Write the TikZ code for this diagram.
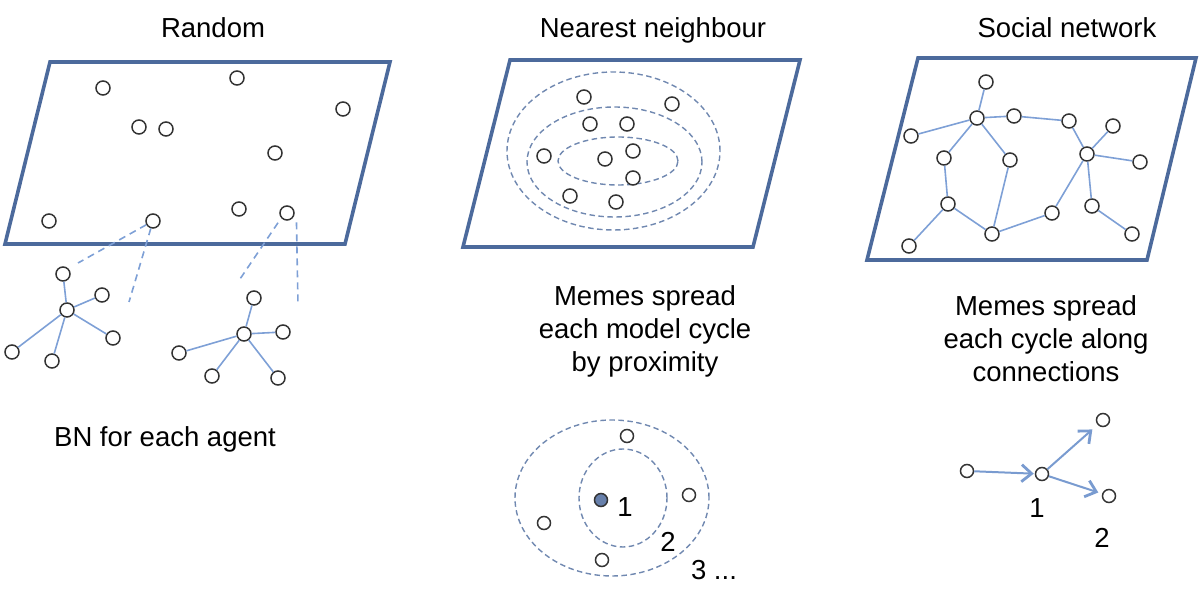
\documentclass[tikz,border=0pt]{standalone}
\usepackage{fontspec}
\setmainfont{Liberation Sans}
\usetikzlibrary{arrows.meta,shapes.geometric}
\definecolor{PlaneBlue}{HTML}{4C6A9C}
\definecolor{LinkBlue}{HTML}{7EA0D6}
\definecolor{ZoneBlue}{HTML}{7088B0}
\definecolor{AgentInk}{HTML}{333333}

\begin{document}
\begin{tikzpicture}[x=1pt,y=1pt,>=Latex]
\tikzset{
  plane/.style={draw=PlaneBlue,line width=3.6pt,line join=miter},
  agent/.style={circle,draw=AgentInk,line width=1.5pt,fill=white,
                minimum size=14pt,inner sep=0pt},
  seed/.style={agent,fill=PlaneBlue!85,minimum size=13pt},
  link/.style={LinkBlue,line width=1.6pt},
  proj/.style={LinkBlue,line width=1.6pt,dash pattern=on 7pt off 5pt},
  zone/.style={draw=ZoneBlue,line width=1.4pt,dash pattern=on 5.5pt off 3.5pt},
  spread/.style={LinkBlue!90!PlaneBlue,line width=2pt,
                 -{Straight Barb[length=10pt,width=17pt,line width=2.8pt]}},
  title/.style={font=\fontsize{27.5}{33}\selectfont,anchor=base,inner sep=0pt},
  caption/.style={font=\fontsize{27.5}{33}\selectfont,align=center,inner sep=0pt,anchor=north},
  num/.style={font=\fontsize{27.5}{33}\selectfont,inner sep=0pt}
}
\useasboundingbox (0,0) rectangle (1203,592);

% ---------- titles -------------------------------------------------------
\node[title] (trand) at (213,554) {Random};
\node[title] (tnear) at (653,554) {Nearest neighbour};
\node[title] (tsoc)  at (1067,554) {Social network};

% ---------- random placement ---------------------------------------------
\draw[plane] (50,530) -- (390,530) -- (345,348) -- (5,348) -- cycle;
\node[agent] (r1)  at (103,504) {};
\node[agent] (r2)  at (237,514) {};
\node[agent] (r3)  at (343,483) {};
\node[agent] (r4)  at (139,465) {};
\node[agent] (r5)  at (166,463) {};
\node[agent] (r6)  at (275,439) {};
\node[agent] (r7)  at (49,371) {};
\node[agent] (r8)  at (153,371) {};
\node[agent] (r9)  at (239,383) {};
\node[agent] (r10) at (287,379) {};

% each agent carries its own BN
\node[agent] (bna) at (67,282) {};
\node[agent] (bna1) at (63,318) {};
\node[agent] (bna2) at (102,297) {};
\node[agent] (bna3) at (113,254) {};
\node[agent] (bna4) at (52,231) {};
\node[agent] (bna5) at (12,240) {};
\foreach \k in {1,...,5} \draw[link] (bna) -- (bna\k);

\node[agent] (bnb) at (244,258) {};
\node[agent] (bnb1) at (254,294) {};
\node[agent] (bnb2) at (283,260) {};
\node[agent] (bnb3) at (278,214) {};
\node[agent] (bnb4) at (212,216) {};
\node[agent] (bnb5) at (179,239) {};
\foreach \k in {1,...,5} \draw[link] (bnb) -- (bnb\k);

\coordinate (pa) at (78,329);
\coordinate (pb) at (129,290);
\coordinate (pc) at (238,310);
\coordinate (pd) at (298,287);
\draw[proj] (r8) -- (pa);
\draw[proj] (r8) -- (pb);
\draw[proj] ([xshift=-9pt,yshift=-2pt]r10.south) -- (pc);
\draw[proj] ([xshift=4pt,yshift=-4pt]r10.south east) -- (pd);

\node[title] (tbn) at (165,145) {BN for each agent};

% ---------- nearest neighbour --------------------------------------------
\draw[plane] (510,532) -- (800,532) -- (753,345) -- (463,345) -- cycle;
\draw[zone] (613.5,441) ellipse [x radius=106.5,y radius=79];
\draw[zone] (614.5,430) ellipse [x radius=87.5,y radius=55];
\draw[zone] (618,431) ellipse [x radius=60,y radius=24];
\node[agent] (n1)  at (584,495) {};
\node[agent] (n2)  at (672,488) {};
\node[agent] (n3)  at (590,468) {};
\node[agent] (n4)  at (627,468) {};
\node[agent] (n5)  at (544,436) {};
\node[agent] (n6)  at (605,433) {};
\node[agent] (n7)  at (633,441) {};
\node[agent] (n8)  at (633,414) {};
\node[agent] (n9)  at (570,396) {};
\node[agent] (n10) at (616,390) {};

\node[caption] (cnear) at (645,307) {Memes spread\\each model cycle\\by proximity};

\draw[zone] (612,94) ellipse [x radius=97,y radius=78];
\draw[zone] (623,94) ellipse [x radius=44,y radius=49];
\node[seed]  (s0) at (601,92) {};
\node[agent,minimum size=13pt] (s1) at (627,156) {};
\node[agent,minimum size=13pt] (s2) at (689,97) {};
\node[agent,minimum size=13pt] (s3) at (544,69) {};
\node[agent,minimum size=13pt] (s4) at (602,32) {};
\node[num] (ring1) at (625,85) {1};
\node[num] (ring2) at (668,50) {2};
\node[num] (ring3) at (714,22) {3 ...};

% ---------- social network -----------------------------------------------
\draw[plane] (918,534) -- (1196,534) -- (1147,332) -- (867,332) -- cycle;
\node[agent] (a) at (986,510) {};
\node[agent] (b) at (977,474) {};
\node[agent] (c) at (1014,476) {};
\node[agent] (d) at (1069,471) {};
\node[agent] (e) at (1113,466) {};
\node[agent] (f) at (911,456) {};
\node[agent] (g) at (1087,438) {};
\node[agent] (h) at (1140,430) {};
\node[agent] (i) at (944,434) {};
\node[agent] (j) at (1010,432) {};
\node[agent] (k) at (948,388) {};
\node[agent] (l) at (1092,386) {};
\node[agent] (m) at (1052,379) {};
\node[agent] (n) at (992,358) {};
\node[agent] (o) at (1132,358) {};
\node[agent] (p) at (909,346) {};
\foreach \u/\v in {a/b,b/f,b/c,c/d,d/g,g/e,g/h,g/l,l/o,g/m,m/n,n/j,j/b,b/i,i/k,k/n,k/p}
  \draw[link] (\u) -- (\v);

\node[caption] (csoc) at (1046,297) {Memes spread\\each cycle along\\connections};

\node[agent,minimum size=13pt] (q0) at (967,121) {};
\node[agent,minimum size=13pt] (q1) at (1042,118) {};
\node[agent,minimum size=13pt] (q2) at (1103,172) {};
\node[agent,minimum size=13pt] (q3) at (1109,96) {};
\draw[spread,shorten >=1pt] (q0) -- (q1);
\draw[spread,shorten >=7pt] (q1) -- (q2);
\draw[spread,shorten >=4pt] (q1) -- (q3);
\node[num] (hop1) at (1037,84) {1};
\node[num] (hop2) at (1102,54) {2};
\end{tikzpicture}
\end{document}
